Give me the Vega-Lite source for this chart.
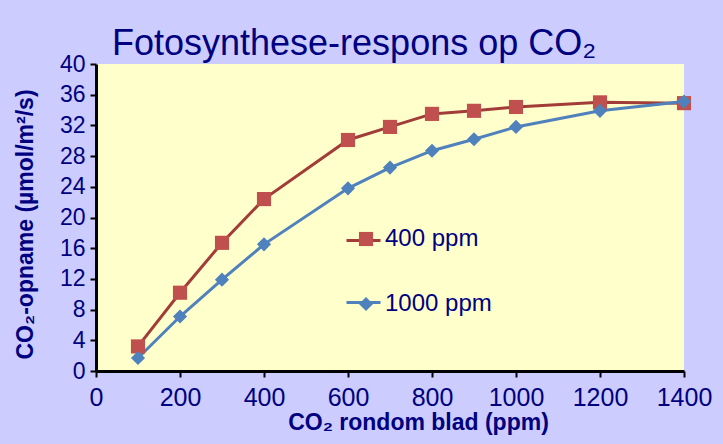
{
  "$schema": "https://vega.github.io/schema/vega-lite/v6.json",
  "autosize": "none",
  "width": 588,
  "height": 307,
  "padding": {"left": 96, "top": 64, "right": 39, "bottom": 73},
  "background": "#CCCCFF",
  "config": {
    "font": "Liberation Sans",
    "view": {"fill": "#FFFFCC", "stroke": null}
  },
  "title": {
    "text": "Fotosynthese-respons op CO₂",
    "anchor": "start",
    "frame": "group",
    "dx": 16,
    "offset": -10,
    "fontSize": 36,
    "fontWeight": "normal",
    "color": "#000080"
  },
  "data": {
    "values": [
      {"co2": 100, "opname": 3.2, "serie": "400 ppm"},
      {"co2": 200, "opname": 10.2, "serie": "400 ppm"},
      {"co2": 300, "opname": 16.7, "serie": "400 ppm"},
      {"co2": 400, "opname": 22.4, "serie": "400 ppm"},
      {"co2": 600, "opname": 30.1, "serie": "400 ppm"},
      {"co2": 700, "opname": 31.8, "serie": "400 ppm"},
      {"co2": 800, "opname": 33.5, "serie": "400 ppm"},
      {"co2": 900, "opname": 33.9, "serie": "400 ppm"},
      {"co2": 1000, "opname": 34.4, "serie": "400 ppm"},
      {"co2": 1200, "opname": 35.0, "serie": "400 ppm"},
      {"co2": 1400, "opname": 34.9, "serie": "400 ppm"},
      {"co2": 100, "opname": 1.7, "serie": "1000 ppm"},
      {"co2": 200, "opname": 7.1, "serie": "1000 ppm"},
      {"co2": 300, "opname": 11.9, "serie": "1000 ppm"},
      {"co2": 400, "opname": 16.5, "serie": "1000 ppm"},
      {"co2": 600, "opname": 23.8, "serie": "1000 ppm"},
      {"co2": 700, "opname": 26.5, "serie": "1000 ppm"},
      {"co2": 800, "opname": 28.7, "serie": "1000 ppm"},
      {"co2": 900, "opname": 30.2, "serie": "1000 ppm"},
      {"co2": 1000, "opname": 31.8, "serie": "1000 ppm"},
      {"co2": 1200, "opname": 33.9, "serie": "1000 ppm"},
      {"co2": 1400, "opname": 35.1, "serie": "1000 ppm"}
    ]
  },
  "encoding": {
    "x": {
      "field": "co2",
      "type": "quantitative",
      "scale": {"domain": [0, 1400], "nice": false, "zero": false},
      "axis": {
        "title": "CO₂ rondom blad (ppm)",
        "values": [0, 200, 400, 600, 800, 1000, 1200, 1400],
        "format": "d",
        "labelOverlap": false,
        "labelFlush": false,
        "grid": false,
        "domainColor": "black",
        "domainWidth": 3,
        "tickColor": "black",
        "tickWidth": 2,
        "tickSize": 6,
        "labelFont": "Liberation Sans",
        "labelFontSize": 25,
        "labelColor": "#000080",
        "labelPadding": 8,
        "titleFont": "Liberation Sans",
        "titleFontSize": 23,
        "titleFontWeight": "bold",
        "titleColor": "#000080",
        "titleX": 322,
        "titleAlign": "center",
        "titlePadding": 1
      }
    },
    "y": {
      "field": "opname",
      "type": "quantitative",
      "scale": {"domain": [0, 40], "nice": false},
      "axis": {
        "title": "CO₂-opname (µmol/m²/s)",
        "values": [0, 4, 8, 12, 16, 20, 24, 28, 32, 36, 40],
        "labelOverlap": false,
        "grid": false,
        "domainColor": "black",
        "domainWidth": 3,
        "tickColor": "black",
        "tickWidth": 2,
        "tickSize": 6,
        "labelFont": "Liberation Sans",
        "labelFontSize": 23,
        "labelColor": "#000080",
        "labelPadding": 5,
        "titleFont": "Liberation Sans",
        "titleFontSize": 23,
        "titleFontWeight": "bold",
        "titleColor": "#000080",
        "titleY": 160,
        "titleAlign": "center",
        "titlePadding": 22
      }
    }
  },
  "layer": [
    {
      "mark": {"type": "line", "strokeWidth": 3},
      "encoding": {
        "stroke": {
          "field": "serie",
          "type": "nominal",
          "sort": ["400 ppm", "1000 ppm"],
          "scale": {"range": ["#A23C38", "#4F81BD"]},
          "legend": {
            "orient": "none",
            "legendX": 249,
            "legendY": 158,
            "title": null,
            "symbolType": "stroke",
            "symbolSize": 1156,
            "symbolStrokeWidth": 3,
            "labelFontSize": 24,
            "labelColor": "transparent",
            "rowPadding": 31,
            "padding": 0
          }
        }
      }
    },
    {
      "mark": {"type": "point", "filled": true, "opacity": 1, "size": 200},
      "encoding": {
        "fill": {
          "field": "serie",
          "type": "nominal",
          "scale": {"domain": ["400 ppm", "1000 ppm"], "range": ["#C0504D", "#4F81BD"]},
          "legend": {
            "orient": "none",
            "legendX": 258,
            "legendY": 163,
            "title": null,
            "symbolSize": 200,
            "symbolStrokeWidth": 0,
            "symbolOpacity": 1,
            "labelFont": "Liberation Sans",
            "labelFontSize": 24,
            "labelColor": "#000080",
            "labelOffset": 7,
            "rowPadding": 41,
            "padding": 0
          }
        },
        "shape": {
          "field": "serie",
          "type": "nominal",
          "scale": {"domain": ["400 ppm", "1000 ppm"], "range": ["square", "diamond"]},
          "legend": {
            "orient": "none",
            "legendX": 258,
            "legendY": 163,
            "title": null,
            "symbolSize": 200,
            "symbolStrokeWidth": 0,
            "symbolOpacity": 1,
            "labelFont": "Liberation Sans",
            "labelFontSize": 24,
            "labelColor": "#000080",
            "labelOffset": 7,
            "rowPadding": 41,
            "padding": 0
          }
        }
      }
    }
  ]
}
